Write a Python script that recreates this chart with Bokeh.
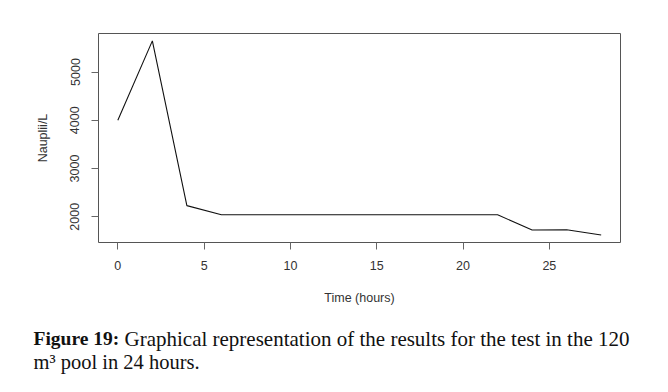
from bokeh.plotting import figure
from bokeh.models import Range1d, Label, FixedTicker
from bokeh.embed import file_html
from bokeh.resources import INLINE

# Data
time_hours = [0, 2, 4, 6, 8, 10, 12, 14, 16, 18, 20, 22, 24, 26, 28]
nauplii_per_l = [4000, 5645, 2230, 2040, 2040, 2040, 2040, 2040, 2040, 2040, 2040, 2040, 1725, 1730, 1620]
x_ticks = [0, 5, 10, 15, 20, 25]
y_ticks = [2000, 3000, 4000, 5000]
x_label = "Time (hours)"
y_label = "Nauplii/L"
caption_bold = "Figure 19:"
caption_line1 = "Graphical representation of the results for the test in the 120"
caption_line2 = "m\u00b3 pool in 24 hours."

W, H = 668, 392
CH = 72                 # caption strip height
PH = H - CH             # chart height
GAP = 9                 # extra space the page puts between the two roots
FL, FR, FT, FB = 98, 620, 33, 242  # frame edges in canvas pixels
X0, X1, Y0, Y1 = -1.12, 29.12, 1466, 5798

p = figure(width=W, height=PH, output_backend="svg", toolbar_location=None,
           min_border_left=FL, min_border_right=W - FR,
           min_border_top=FT, min_border_bottom=PH - FB,
           x_range=Range1d(X0, X1), y_range=Range1d(Y0, Y1))
p.background_fill_color = "white"
p.border_fill_color = "white"
p.grid.visible = False
p.outline_line_color = "#555555"
p.outline_line_width = 1

p.line(time_hours, nauplii_per_l, line_color="#111111", line_width=1.1)

for ax in (p.xaxis[0], p.yaxis[0]):
    ax.axis_line_color = None
    ax.major_tick_line_color = "#666666"
    ax.major_tick_out = 7
    ax.major_tick_in = 0
    ax.minor_tick_line_color = None
    ax.major_label_text_font = "Liberation Sans"
    ax.major_label_text_font_size = "12.5px"
    ax.major_label_text_color = "#333333"
    ax.axis_label_text_font = "Liberation Sans"
    ax.axis_label_text_font_size = "12.5px"
    ax.axis_label_text_font_style = "normal"
    ax.axis_label_text_color = "#333333"

p.xaxis.ticker = FixedTicker(ticks=x_ticks)
p.yaxis.ticker = FixedTicker(ticks=y_ticks)
p.xaxis.axis_label = x_label
p.yaxis.axis_label = y_label
p.xaxis.major_label_standoff = 11
p.xaxis.axis_label_standoff = 18
p.yaxis.major_label_orientation = "vertical"
p.yaxis.major_label_standoff = 12
p.yaxis.axis_label_standoff = 18

# caption strip: a bare figure whose data units are pixels (y measured from the top)
c = figure(width=W, height=CH, output_backend="svg", toolbar_location=None,
           min_border=0, x_range=Range1d(0, W), y_range=Range1d(CH, 0))
c.axis.visible = False
c.grid.visible = False
c.outline_line_color = None
c.background_fill_color = "white"
c.border_fill_color = "white"


def cap(text, px, py, size, bold=False):
    return Label(x=px, y=py - PH - GAP, text=text,
                 text_font="Liberation Serif", text_font_size=size,
                 text_font_style="bold" if bold else "normal",
                 text_color="#111111", text_baseline="alphabetic", text_align="left")

c.add_layout(cap(caption_bold, 33, 347, "19.5px", bold=True))
c.add_layout(cap(caption_line1, 124, 347, "21px"))
c.add_layout(cap(caption_line2, 33, 370, "20.5px"))

open("out.html", "w").write(file_html([p, c], INLINE))
